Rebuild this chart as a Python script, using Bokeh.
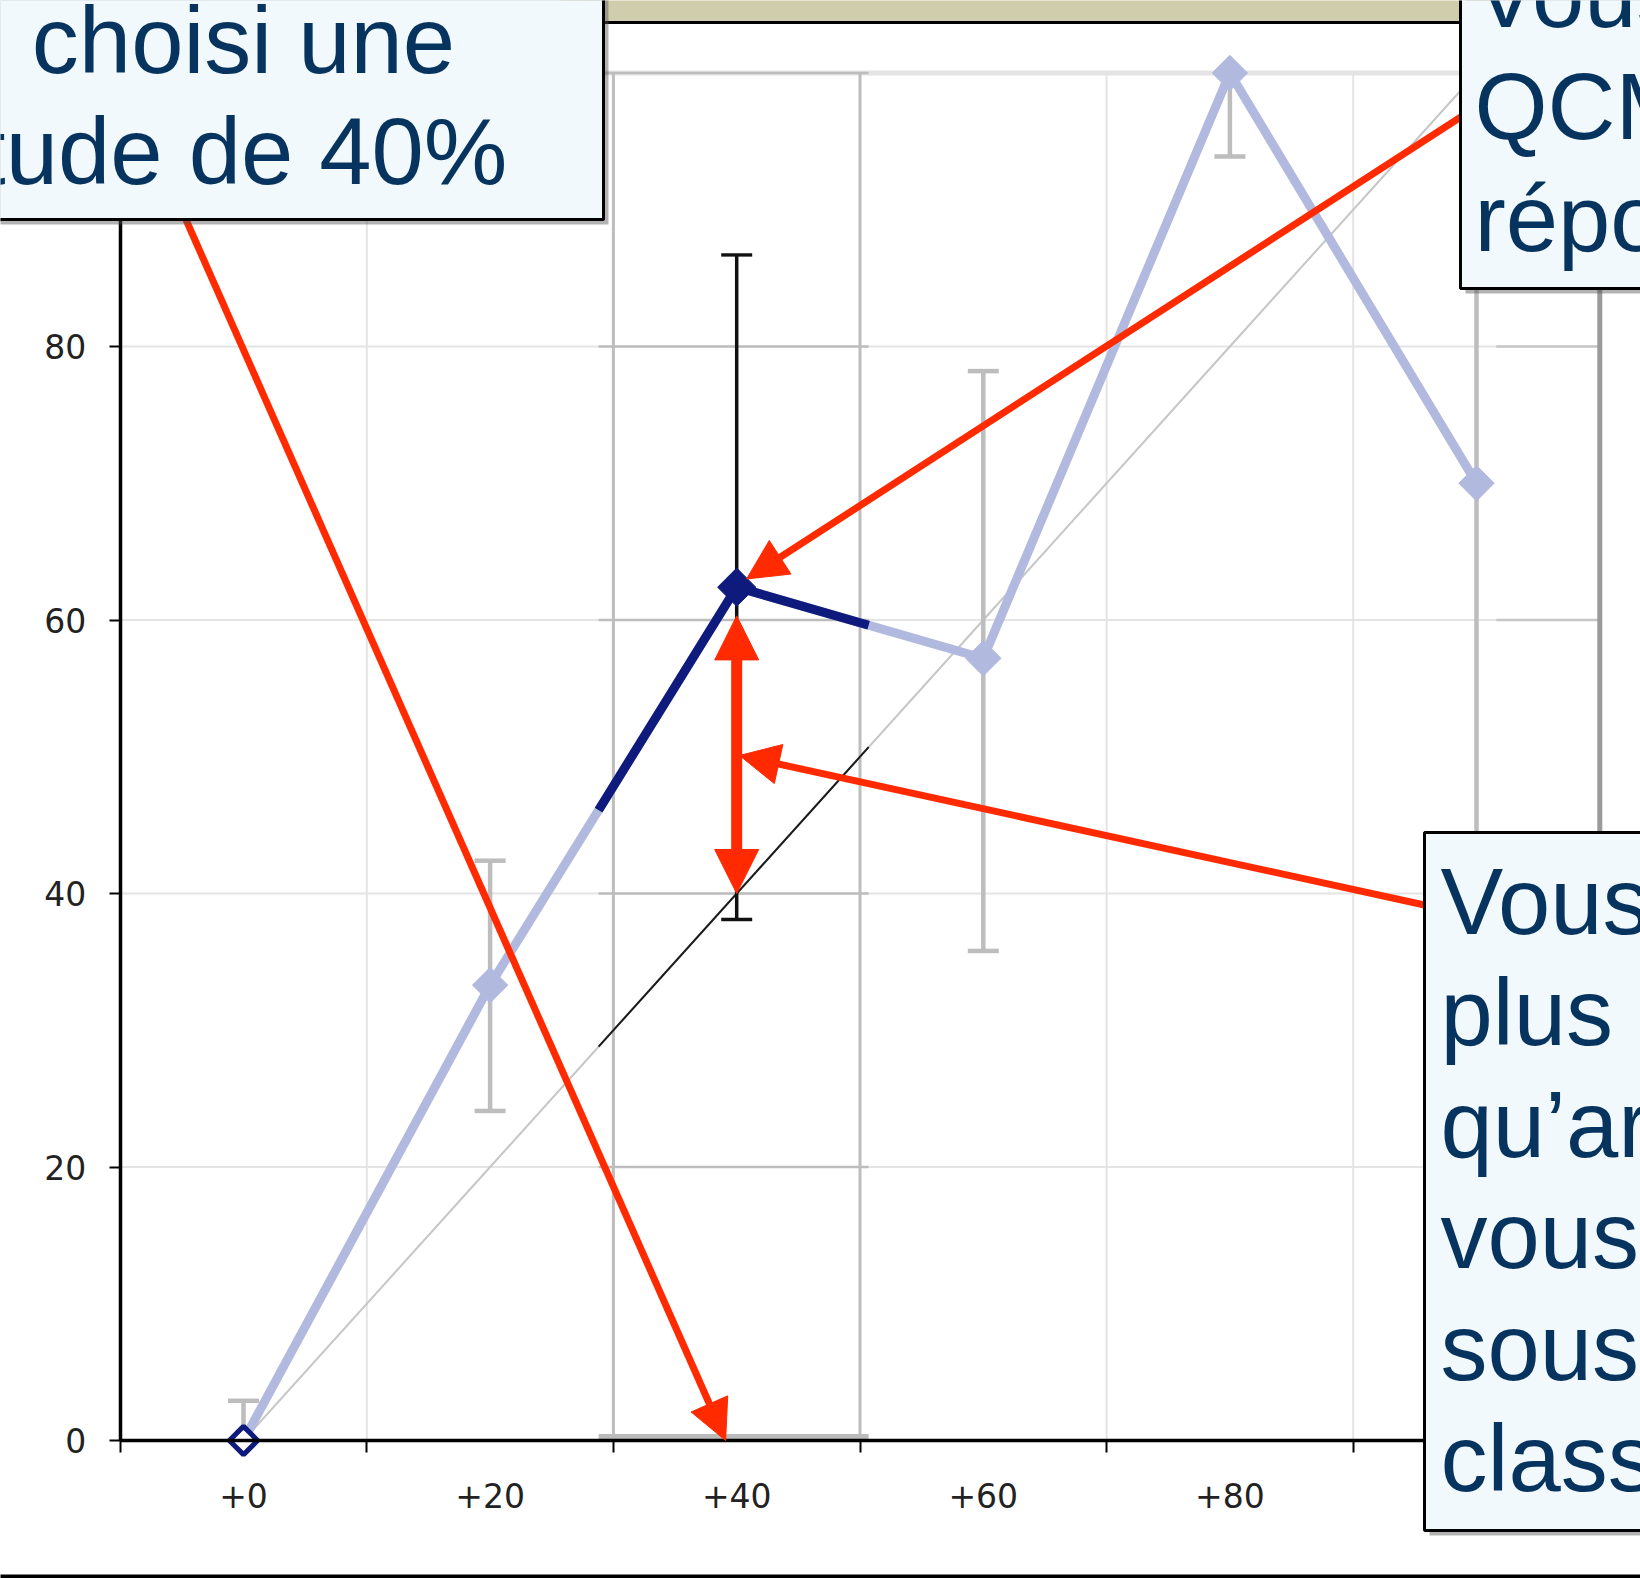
import numpy as np
from bokeh.plotting import figure
from bokeh.models import (Range1d, FixedTicker, BoxAnnotation, Label, Arrow,
                          NormalHead, ColumnDataSource)
from bokeh.embed import file_html
from bokeh.resources import INLINE

# ---------------- data ----------------
categories = ["+0", "+20", "+40", "+60", "+80", "+100"]   # chosen certainty
confidence = [0, 20, 40, 60, 80, 100]                      # numeric value of each category
observed = [0.0, 33.3, 62.4, 57.2, 100.0, 70.0]            # observed % correct
err_low = [0.0, 24.1, 38.1, 35.8, 93.9, 38.0]
err_high = [2.9, 42.4, 86.7, 78.2, 100.0, 100.0]
y_ticks = [0, 20, 40, 60, 80, 100]
highlight = 2                                              # the "+40" category

box1_lines = ["choisi une", "tude de 40%"]
box2_lines = ["Vous", "QCM", "répo"]
box3_lines = ["Vous", "plus", "qu’ar", "vous", "sous", "class"]

# ---------------- layout (page pixels) ----------------
W, H = 1640, 1578
X0PX, XPXU = 243.0, 12.33      # pixel of x=0, pixels per x unit
Y0PX, YPXU = 1440.0, 13.675    # pixel of y=0, pixels per y unit
TEXT_SHIFT = 33                # label anchor correction (px)


def dx(px):
    return (px - X0PX) / XPXU


def dy(py):
    return (Y0PX - py) / YPXU


LAV = "#B2B9DF"
NAVY = "#0E1A7C"
RED = "#FF2A00"
TXT = "#07345F"
BOXFILL = "#F2F9FD"
GRID = "#E4E4E4"
GRID_DARK = "#BDBDBD"

p = figure(width=W, height=H, x_range=Range1d(dx(0), dx(W)), y_range=Range1d(dy(H), dy(0)),
           output_backend="svg", toolbar_location=None,
           min_border_left=0, min_border_right=0, min_border_top=0, min_border_bottom=0)
p.xgrid.visible = False
p.ygrid.visible = False
p.outline_line_color = None
p.background_fill_color = "white"
p.border_fill_color = "white"

half = (confidence[1] - confidence[0]) / 2
bounds = [c - half for c in confidence] + [confidence[-1] + half]
h0, h1 = confidence[highlight] - 11.2, confidence[highlight] + 10.7

# axes (drawn at the chart's own origin)
xa = p.xaxis[0]
xa.fixed_location = 0
xa.bounds = (bounds[0], bounds[-1])
xa.ticker = FixedTicker(ticks=confidence, minor_ticks=bounds)
xa.major_label_overrides = {c: lab for c, lab in zip(confidence, categories)}
xa.major_tick_out = 0
xa.major_tick_in = 0
xa.minor_tick_out = 12
xa.minor_tick_in = 0
xa.minor_tick_line_color = "black"
xa.minor_tick_line_width = 2
xa.axis_line_width = 3.5
xa.axis_line_color = "black"
xa.major_label_standoff = 30
xa.major_label_text_font = "DejaVu Sans"
xa.major_label_text_font_size = "33px"
xa.major_label_text_color = "#222222"

ya = p.yaxis[0]
ya.fixed_location = bounds[0]
ya.bounds = (y_ticks[0], y_ticks[-1])
ya.ticker = FixedTicker(ticks=y_ticks, minor_ticks=[])
ya.major_tick_out = 11
ya.major_tick_in = 0
ya.major_tick_line_width = 2
ya.major_tick_line_color = "black"
ya.minor_tick_out = 0
ya.minor_tick_in = 0
ya.axis_line_width = 3.5
ya.axis_line_color = "black"
ya.major_label_standoff = 23
ya.major_label_text_font = "DejaVu Sans"
ya.major_label_text_font_size = "33px"
ya.major_label_text_color = "#222222"

# grid lines
gy = y_ticks[1:]
p.segment(x0=[bounds[0]] * len(gy), y0=gy, x1=[bounds[-1]] * len(gy), y1=gy,
          line_color=GRID, line_width=[2] * (len(gy) - 1) + [5])
p.segment(x0=[h0] * len(gy), y0=gy, x1=[h1] * len(gy), y1=gy,
          line_color=GRID_DARK, line_width=2.5)
p.segment(x0=[101.6] * len(gy), y0=gy, x1=[bounds[-1]] * len(gy), y1=gy,
          line_color="#C6C6C6", line_width=2.5)
gx = bounds[1:-1]
near = [abs(b - confidence[highlight]) < half + 1 for b in gx]
p.segment(x0=gx, y0=[0] * len(gx), x1=gx, y1=[y_ticks[-1]] * len(gx),
          line_color=[GRID_DARK if n else GRID for n in near],
          line_width=[3 if n else 2 for n in near])
p.segment(x0=[bounds[-1]], y0=[0], x1=[bounds[-1]], y1=[y_ticks[-1]],
          line_color="#9A9A9A", line_width=5)
p.segment(x0=[h0], y0=[0.3], x1=[h1], y1=[0.3], line_color="#BBBBBB", line_width=5)

# perfect calibration diagonal
p.line(confidence, confidence, line_color="#C6C6C6", line_width=2)
dxs = [h0, h1]
p.line(dxs, list(np.interp(dxs, confidence, confidence)), line_color="#1A1A1A", line_width=2)

# error bars
src = ColumnDataSource(dict(
    x=confidence, y=observed, lo=err_low, hi=err_high,
    col=["#111111" if i == highlight else "#BDBDBD" for i in range(len(confidence))],
    w=[3.5 if i == highlight else 4.5 for i in range(len(confidence))],
))
p.segment(x0="x", y0="lo", x1="x", y1="hi", line_color="col", line_width="w", source=src)
p.scatter(x="x", y="hi", marker="dash", size=31, line_color="col", line_width="w", source=src)
p.scatter(x="x", y="lo", marker="dash", size=31, line_color="col", line_width="w", source=src)

# observed series
p.line(confidence, observed, line_color=LAV, line_width=9)
nx = [h0, confidence[highlight], h1]
p.line(nx, list(np.interp(nx, confidence, observed)), line_color=NAVY, line_width=9)
p.scatter(confidence[1:], observed[1:], marker="square", angle=np.pi / 4, size=25,
          fill_color=LAV, line_color=LAV)
p.scatter([confidence[highlight]], [observed[highlight]], marker="square", angle=np.pi / 4,
          size=27, fill_color=NAVY, line_color=NAVY)
p.scatter([confidence[0]], [observed[0]], marker="square", angle=np.pi / 4, size=20,
          fill_color="white", line_color=NAVY, line_width=5)


# ---------------- annotations ----------------
def head(size):
    return NormalHead(size=size, fill_color=RED, line_color=RED, line_width=1)


p.add_layout(Arrow(end=head(40), x_start=dx(177), y_start=dy(200),
                   x_end=confidence[highlight] - 0.9, y_end=0,
                   line_color=RED, line_width=7))
p.add_layout(Arrow(end=head(40), x_start=dx(1475), y_start=dy(107),
                   x_end=confidence[highlight] + 0.8, y_end=observed[highlight] + 0.6,
                   line_color=RED, line_width=7))
p.add_layout(Arrow(end=head(40), x_start=dx(1440), y_start=dy(908),
                   x_end=dx(739), y_end=dy(755),
                   line_color=RED, line_width=7))
p.add_layout(Arrow(start=head(44), end=head(44),
                   x_start=confidence[highlight], y_start=confidence[highlight],
                   x_end=confidence[highlight], y_end=observed[highlight] - 2.1,
                   line_color=RED, line_width=11))

# top decorative band and bottom rule
p.add_layout(BoxAnnotation(left=dx(560), right=dx(1500), top=dy(-30), bottom=dy(20.5),
                           fill_color="#D0CDAD", fill_alpha=1, line_color=None))
p.add_layout(BoxAnnotation(left=dx(560), right=dx(1500), top=dy(20.5), bottom=dy(23.5),
                           fill_color="black", fill_alpha=1, line_color=None))
p.add_layout(BoxAnnotation(left=dx(-30), right=dx(W + 30), top=dy(1574), bottom=dy(1600),
                           fill_color="black", fill_alpha=1, line_color=None))


def text_box(l, t, r, b):
    p.add_layout(BoxAnnotation(left=dx(l + 5), right=dx(r + 5), top=dy(t + 5), bottom=dy(b + 5),
                               fill_color="#555555", fill_alpha=0.45, line_color=None))
    p.add_layout(BoxAnnotation(left=dx(l), right=dx(r), top=dy(t), bottom=dy(b),
                               fill_color=BOXFILL, fill_alpha=1, line_color="black",
                               line_alpha=1, line_width=3))


def text_lines(lines, x, y0, step, align):
    for k, s in enumerate(lines):
        p.add_layout(Label(x=dx(x), y=dy(y0 + k * step - TEXT_SHIFT), text=s, text_align=align,
                           text_baseline="alphabetic", text_font="Liberation Sans",
                           text_font_size="94px", text_color=TXT))


text_box(-40, -40, 603, 219)
text_lines(box1_lines, 243, 73, 111, "center")
text_box(1460, -40, 1720, 288)
text_lines(box2_lines, 1474, 27, 112, "left")
text_box(1424, 832, 1720, 1530)
text_lines(box3_lines, 1440, 934, 111.4, "left")

open("out.html", "w").write(file_html(p, INLINE))
